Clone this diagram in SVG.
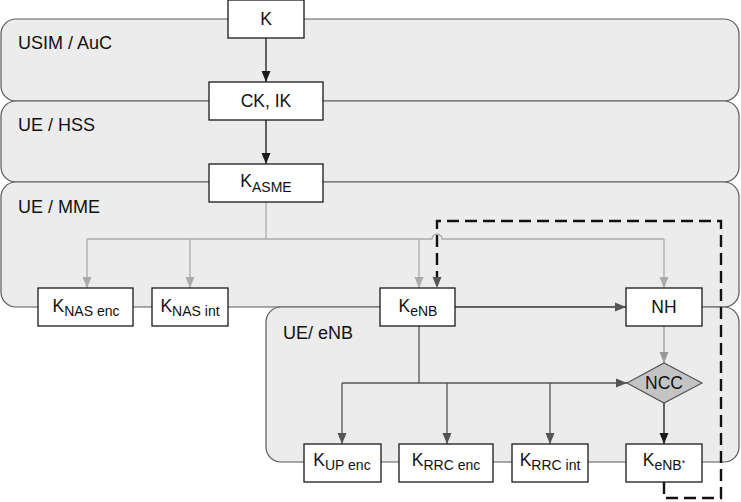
<svg xmlns="http://www.w3.org/2000/svg" width="741" height="502" viewBox="0 0 741 502">
<defs>
<style>
.band{fill:#ececec;stroke:#585858;stroke-width:1.2}
.box{fill:#fff;stroke:#1a1a1a;stroke-width:1.3}
.t{font-family:"Liberation Sans",Arial,sans-serif;font-size:17.5px;fill:#111}
.bl{font-family:"Liberation Sans",Arial,sans-serif;font-size:18px;fill:#111}
.s{font-size:14px}
.c{fill:none;stroke-width:1.3}
.blk{stroke:#1a1a1a}
.gry{stroke:#aaaaaa}
.drk{stroke:#555555}
.dash{fill:none;stroke:#111;stroke-width:2.4;stroke-dasharray:12 6}
</style>
<marker id="aB" markerUnits="userSpaceOnUse" markerWidth="12" markerHeight="12" viewBox="0 0 12 12" refX="11" refY="6" orient="auto"><path d="M0,1.5 L11,6 L0,10.5 Z" fill="#1a1a1a"/></marker>
<marker id="aG" markerUnits="userSpaceOnUse" markerWidth="12" markerHeight="12" viewBox="0 0 12 12" refX="11" refY="6" orient="auto"><path d="M0,1.5 L11,6 L0,10.5 Z" fill="#aaaaaa"/></marker>
<marker id="aM" markerUnits="userSpaceOnUse" markerWidth="12" markerHeight="12" viewBox="0 0 12 12" refX="11" refY="6" orient="auto"><path d="M0,1.5 L11,6 L0,10.5 Z" fill="#999999"/></marker>
<marker id="aD" markerUnits="userSpaceOnUse" markerWidth="12" markerHeight="12" viewBox="0 0 12 12" refX="11" refY="6" orient="auto"><path d="M0,1.5 L11,6 L0,10.5 Z" fill="#555555"/></marker>
</defs>
<g id="bands">
<g id="band-usim"><rect class="band" x="1" y="19" width="738" height="82" rx="15"/><text class="bl" x="18" y="49">USIM / AuC</text></g>
<g id="band-hss"><rect class="band" x="1" y="101" width="738" height="81" rx="15"/><text class="bl" x="18" y="131">UE / HSS</text></g>
<g id="band-mme"><rect class="band" x="1" y="182" width="738" height="125" rx="15"/><text class="bl" x="18" y="213">UE / MME</text></g>
<g id="band-enb"><rect class="band" x="266" y="307" width="473" height="155" rx="15"/><text class="bl" x="283" y="339">UE/ eNB</text></g>
</g>
<g id="connectors">
<path class="c blk" d="M266 38 V82" marker-end="url(#aB)"/>
<path class="c blk" d="M266 120 V164" marker-end="url(#aB)"/>
<path class="c gry" d="M266 202 V239"/>
<path class="c gry" d="M87 239 H432 A5 5 0 0 1 442 239 H664"/>
<path class="c gry" d="M87 239 V288" marker-end="url(#aG)"/>
<path class="c gry" d="M190 239 V288" marker-end="url(#aG)"/>
<path class="c gry" d="M419 239 V288" marker-end="url(#aG)"/>
<path class="c gry" d="M664 239 V288" marker-end="url(#aG)"/>
<path class="c drk" d="M455 307 H626" marker-end="url(#aD)"/>
<path class="c drk" d="M419 326 V383"/>
<path class="c drk" d="M342 383 H627" marker-end="url(#aD)"/>
<path class="c drk" d="M342 383 V444" marker-end="url(#aD)"/>
<path class="c drk" d="M447 383 V444" marker-end="url(#aD)"/>
<path class="c drk" d="M550 383 V444" marker-end="url(#aD)"/>
<path class="c" stroke="#999" d="M664 326 V363" marker-end="url(#aM)"/>
<path class="c blk" d="M664 403 V444" marker-end="url(#aB)"/>
<path class="dash" d="M664 482 V498 H721 V221 H437 V288" marker-end="url(#aD)"/>
</g>
<g id="n-K"><rect class="box" x="228" y="0" width="76" height="38"/><text class="t" x="266" y="25" text-anchor="middle">K</text></g>
<g id="n-CKIK"><rect class="box" x="209" y="82" width="114" height="38"/><text class="t" x="266" y="107" text-anchor="middle">CK, IK</text></g>
<g id="n-KASME"><rect class="box" x="209" y="164" width="114" height="38"/><text class="t" x="266" y="187" text-anchor="middle" font-size="18.5">K<tspan class="s" dy="5">ASME</tspan></text></g>
<g id="n-KNASenc"><rect class="box" x="38" y="288" width="95" height="38"/><text class="t" x="86" y="312" text-anchor="middle" font-size="19">K<tspan class="s" dy="4">NAS enc</tspan></text></g>
<g id="n-KNASint"><rect class="box" x="152" y="288" width="76" height="38"/><text class="t" x="190" y="312" text-anchor="middle" font-size="19">K<tspan class="s" dy="4">NAS int</tspan></text></g>
<g id="n-KeNB"><rect class="box" x="380" y="288" width="75" height="38"/><text class="t" x="418" y="312" text-anchor="middle" font-size="19">K<tspan class="s" dy="4">eNB</tspan></text></g>
<g id="n-NH"><rect class="box" x="626" y="288" width="76" height="38"/><text class="t" x="664" y="313" text-anchor="middle">NH</text></g>
<g id="n-NCC"><polygon points="627,383 664,363 702,383 664,403" fill="#c4c4c4" stroke="#555" stroke-width="1.2"/><text class="t" x="664" y="389" text-anchor="middle" fill="#333">NCC</text></g>
<g id="n-KUPenc"><rect class="box" x="304" y="444" width="77" height="38"/><text class="t" x="342" y="466" text-anchor="middle" font-size="19">K<tspan class="s" dy="4">UP enc</tspan></text></g>
<g id="n-KRRCenc"><rect class="box" x="399" y="444" width="94" height="38"/><text class="t" x="446" y="466" text-anchor="middle" font-size="19">K<tspan class="s" dy="4">RRC enc</tspan></text></g>
<g id="n-KRRCint"><rect class="box" x="512" y="444" width="76" height="38"/><text class="t" x="550" y="466" text-anchor="middle" font-size="19">K<tspan class="s" dy="4">RRC int</tspan></text></g>
<g id="n-KeNBstar"><rect class="box" x="626" y="444" width="76" height="38"/><text class="t" x="664" y="466" text-anchor="middle" font-size="19">K<tspan class="s" dy="4">eNB</tspan><tspan font-size="9" dy="-4">*</tspan></text></g>
</svg>
